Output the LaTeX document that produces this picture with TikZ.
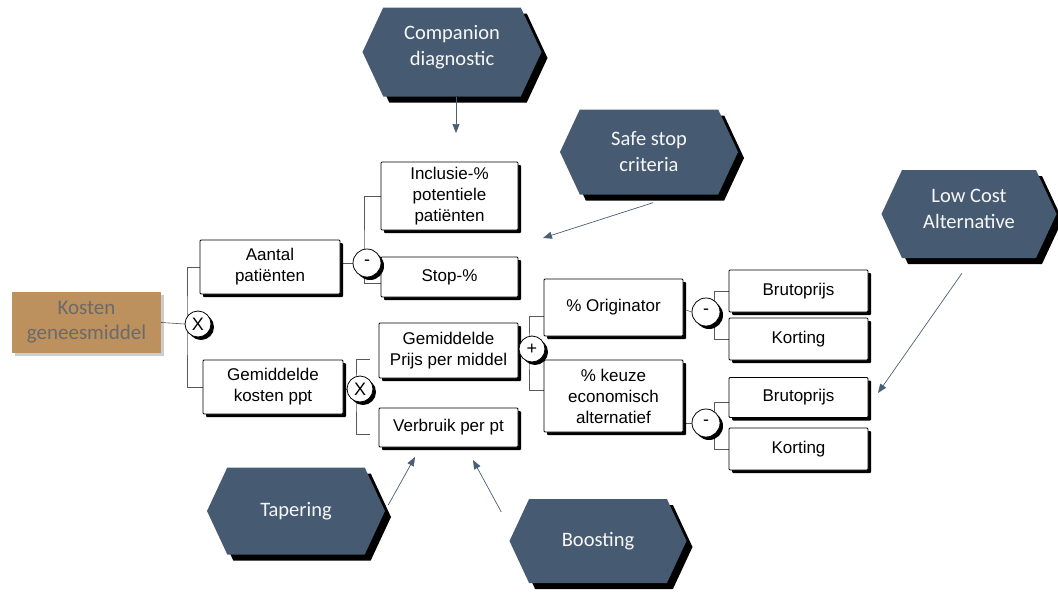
\documentclass[tikz,border=0pt]{standalone}
\usepackage{fontspec}
\setmainfont{Liberation Sans}
\newfontfamily\calibri{Carlito}
\usetikzlibrary{shapes.symbols,shadows,arrows.meta}
\definecolor{hexblue}{HTML}{465B71}
\definecolor{tanfill}{HTML}{BD915E}
\definecolor{ktext}{HTML}{6A6A6A}
\definecolor{arrcol}{HTML}{4A5E74}
\pgfdeclarelayer{bg}
\pgfsetlayers{bg,main}
\begin{document}
\begin{tikzpicture}[x=1pt,y=-1pt,
  box/.style={draw=black, line width=0.8pt, fill=white, rounded corners=1pt, align=center,
    font=\fontsize{17}{21}\selectfont, inner sep=0pt,
    drop shadow={shadow xshift=3pt, shadow yshift=-3pt, fill=black, opacity=1}},
  circ/.style={circle, draw=black, line width=0.8pt, fill=white, inner sep=0pt, minimum size=27pt,
    font=\fontsize{18}{18}\selectfont,
    drop shadow={shadow xshift=3pt, shadow yshift=-3pt, fill=black, opacity=1}},
  hexa/.style={signal, signal to=east and west, signal pointer angle=130, fill=hexblue,
    text=white!94!gray, align=center, inner sep=0pt, font=\calibri\fontsize{20.5}{26}\selectfont,
    drop shadow={shadow xshift=6pt, shadow yshift=-6pt, fill=black, opacity=1}},
  conn/.style={draw=black!65, line width=0.6pt},
  arr/.style={draw=arrcol, line width=0.7pt, -{Triangle[length=9pt,width=7pt]}}
]
\useasboundingbox (0,0) rectangle (1058,592);

% hexagons
\node[hexa, minimum width=179pt, minimum height=89pt] (comp) at (452,52) {};
\node[text=white!94!gray, align=center, font=\calibri\fontsize{20.5}{26}\selectfont, inner sep=0pt] (compt) at (452,47) {Companion\\diagnostic};
\node[hexa, minimum width=178pt, minimum height=85pt] (safe) at (649,152) {Safe stop\\criteria};
\node[hexa, minimum width=175pt, minimum height=88pt] (low) at (969,214) {};
\node[text=white!94!gray, align=center, font=\calibri\fontsize{20.5}{26}\selectfont, inner sep=0pt] (lowt) at (969,209) {Low Cost\\Alternative};
\node[hexa, minimum width=178pt, minimum height=87pt] (tap) at (296,511) {Tapering};
\node[hexa, minimum width=177pt, minimum height=84pt] (boost) at (598,541) {Boosting};

% root
\node[fill=tanfill, text=ktext, align=center, font=\calibri\fontsize{21}{25}\selectfont,
  minimum width=149pt, minimum height=61pt, inner sep=0pt,
  drop shadow={shadow xshift=3pt, shadow yshift=-3pt, fill=black, opacity=0.2}] (kosten) at (86.5,322.5) {Kosten\\geneesmiddel};

% boxes
\node[box, minimum width=140pt, minimum height=54pt] (aantal) at (270,267) {Aantal\\patiënten};
\node[box, minimum width=140pt, minimum height=54pt] (gemk) at (273,387) {Gemiddelde\\kosten ppt};
\node[box, minimum width=137pt, minimum height=68pt] (incl) at (449.5,196) {Inclusie-\%\\potentiele\\patiënten};
\node[box, minimum width=137pt, minimum height=40pt] (stop) at (449.5,277) {Stop-\%};
\node[box, minimum width=139pt, minimum height=55pt] (gemp) at (448.5,350.5) {Gemiddelde\\Prijs per middel};
\node[box, minimum width=139pt, minimum height=39pt] (verb) at (448.5,427.5) {Verbruik per pt};
\node[box, minimum width=139pt, minimum height=57pt] (orig) at (613.5,307.5) {\% Originator};
\node[box, minimum width=139pt, minimum height=72pt] (keuze) at (613.5,396) {\% keuze\\economisch\\alternatief};
\node[box, minimum width=139pt, minimum height=42pt] (bp1) at (798.5,291) {Brutoprijs};
\node[box, minimum width=139pt, minimum height=42pt] (k1) at (798.5,339) {Korting};
\node[box, minimum width=139pt, minimum height=40pt] (bp2) at (798.5,397.5) {Brutoprijs};
\node[box, minimum width=139pt, minimum height=42pt] (k2) at (798.5,449) {Korting};

% operators
\node[circ, minimum size=26pt] (c1) at (198,324) {X};
\node[circ, minimum size=28pt] (cm1) at (367,263) {-};
\node[circ, minimum size=26pt] (cx2) at (360,389) {X};
\node[circ, minimum size=26pt] (cp) at (532,349) {+};
\node[circ, minimum size=28pt] (cm2) at (706,312) {-};
\node[circ, minimum size=28pt] (cm3) at (706,423) {-};

% connectors
\begin{pgfonlayer}{bg}
\draw[conn] (kosten.east) -- (c1.west);
\draw[conn] (aantal.west) -| ([xshift=-11pt]c1.center) |- (gemk.west);
\draw[conn] (cm1.west -| aantal.east) -- (cm1.west);
\draw[conn] (incl.west) -| ([xshift=-3pt]cm1.center) |- ([yshift=-6pt]stop.west);
\draw[conn] (cx2.west -| gemk.east) -- (cx2.west);
\draw[conn] ([xshift=-9pt,yshift=-9pt]gemp.west) -| ([xshift=-4pt]cx2.center) |- ([xshift=-9pt,yshift=-6.5pt]verb.west);
\draw[conn] (cp.west -| gemp.east) -- (cp.west);
\draw[conn] ([yshift=-8.5pt]orig.west) -| ([xshift=-3pt]cp.center) |- ([yshift=6pt]keuze.west);
\draw[conn] ([yshift=-1.5pt]orig.east) -- (cm2.west);
\draw[conn] (bp1.west) -| ([xshift=8pt]cm2.center) |- (k1.west);
\draw[conn] (cm3.west -| keuze.east) -- (cm3.west);
\draw[conn] ([yshift=-5pt]bp2.west) -| ([xshift=8pt]cm3.center) |- (k2.west);
\end{pgfonlayer}

% influence arrows
\coordinate (a1) at (456,133);
\coordinate (a2) at (543,238);
\coordinate (a3) at (878,393);
\coordinate (a4) at (415,457);
\coordinate (a5) at (473,460);
\draw[arr] (comp.south -| a1) -- (a1);
\draw[arr] ([xshift=4pt,yshift=-8pt]safe.south) -- (a2);
\draw[arr] ([xshift=-7pt,yshift=-15pt]low.south) -- (a3);
\draw[arr] ([xshift=3pt,yshift=6pt]tap.east) -- (a4);
\draw[arr] ([xshift=-8pt,yshift=29pt]boost.west) -- (a5);
\end{tikzpicture}
\end{document}
